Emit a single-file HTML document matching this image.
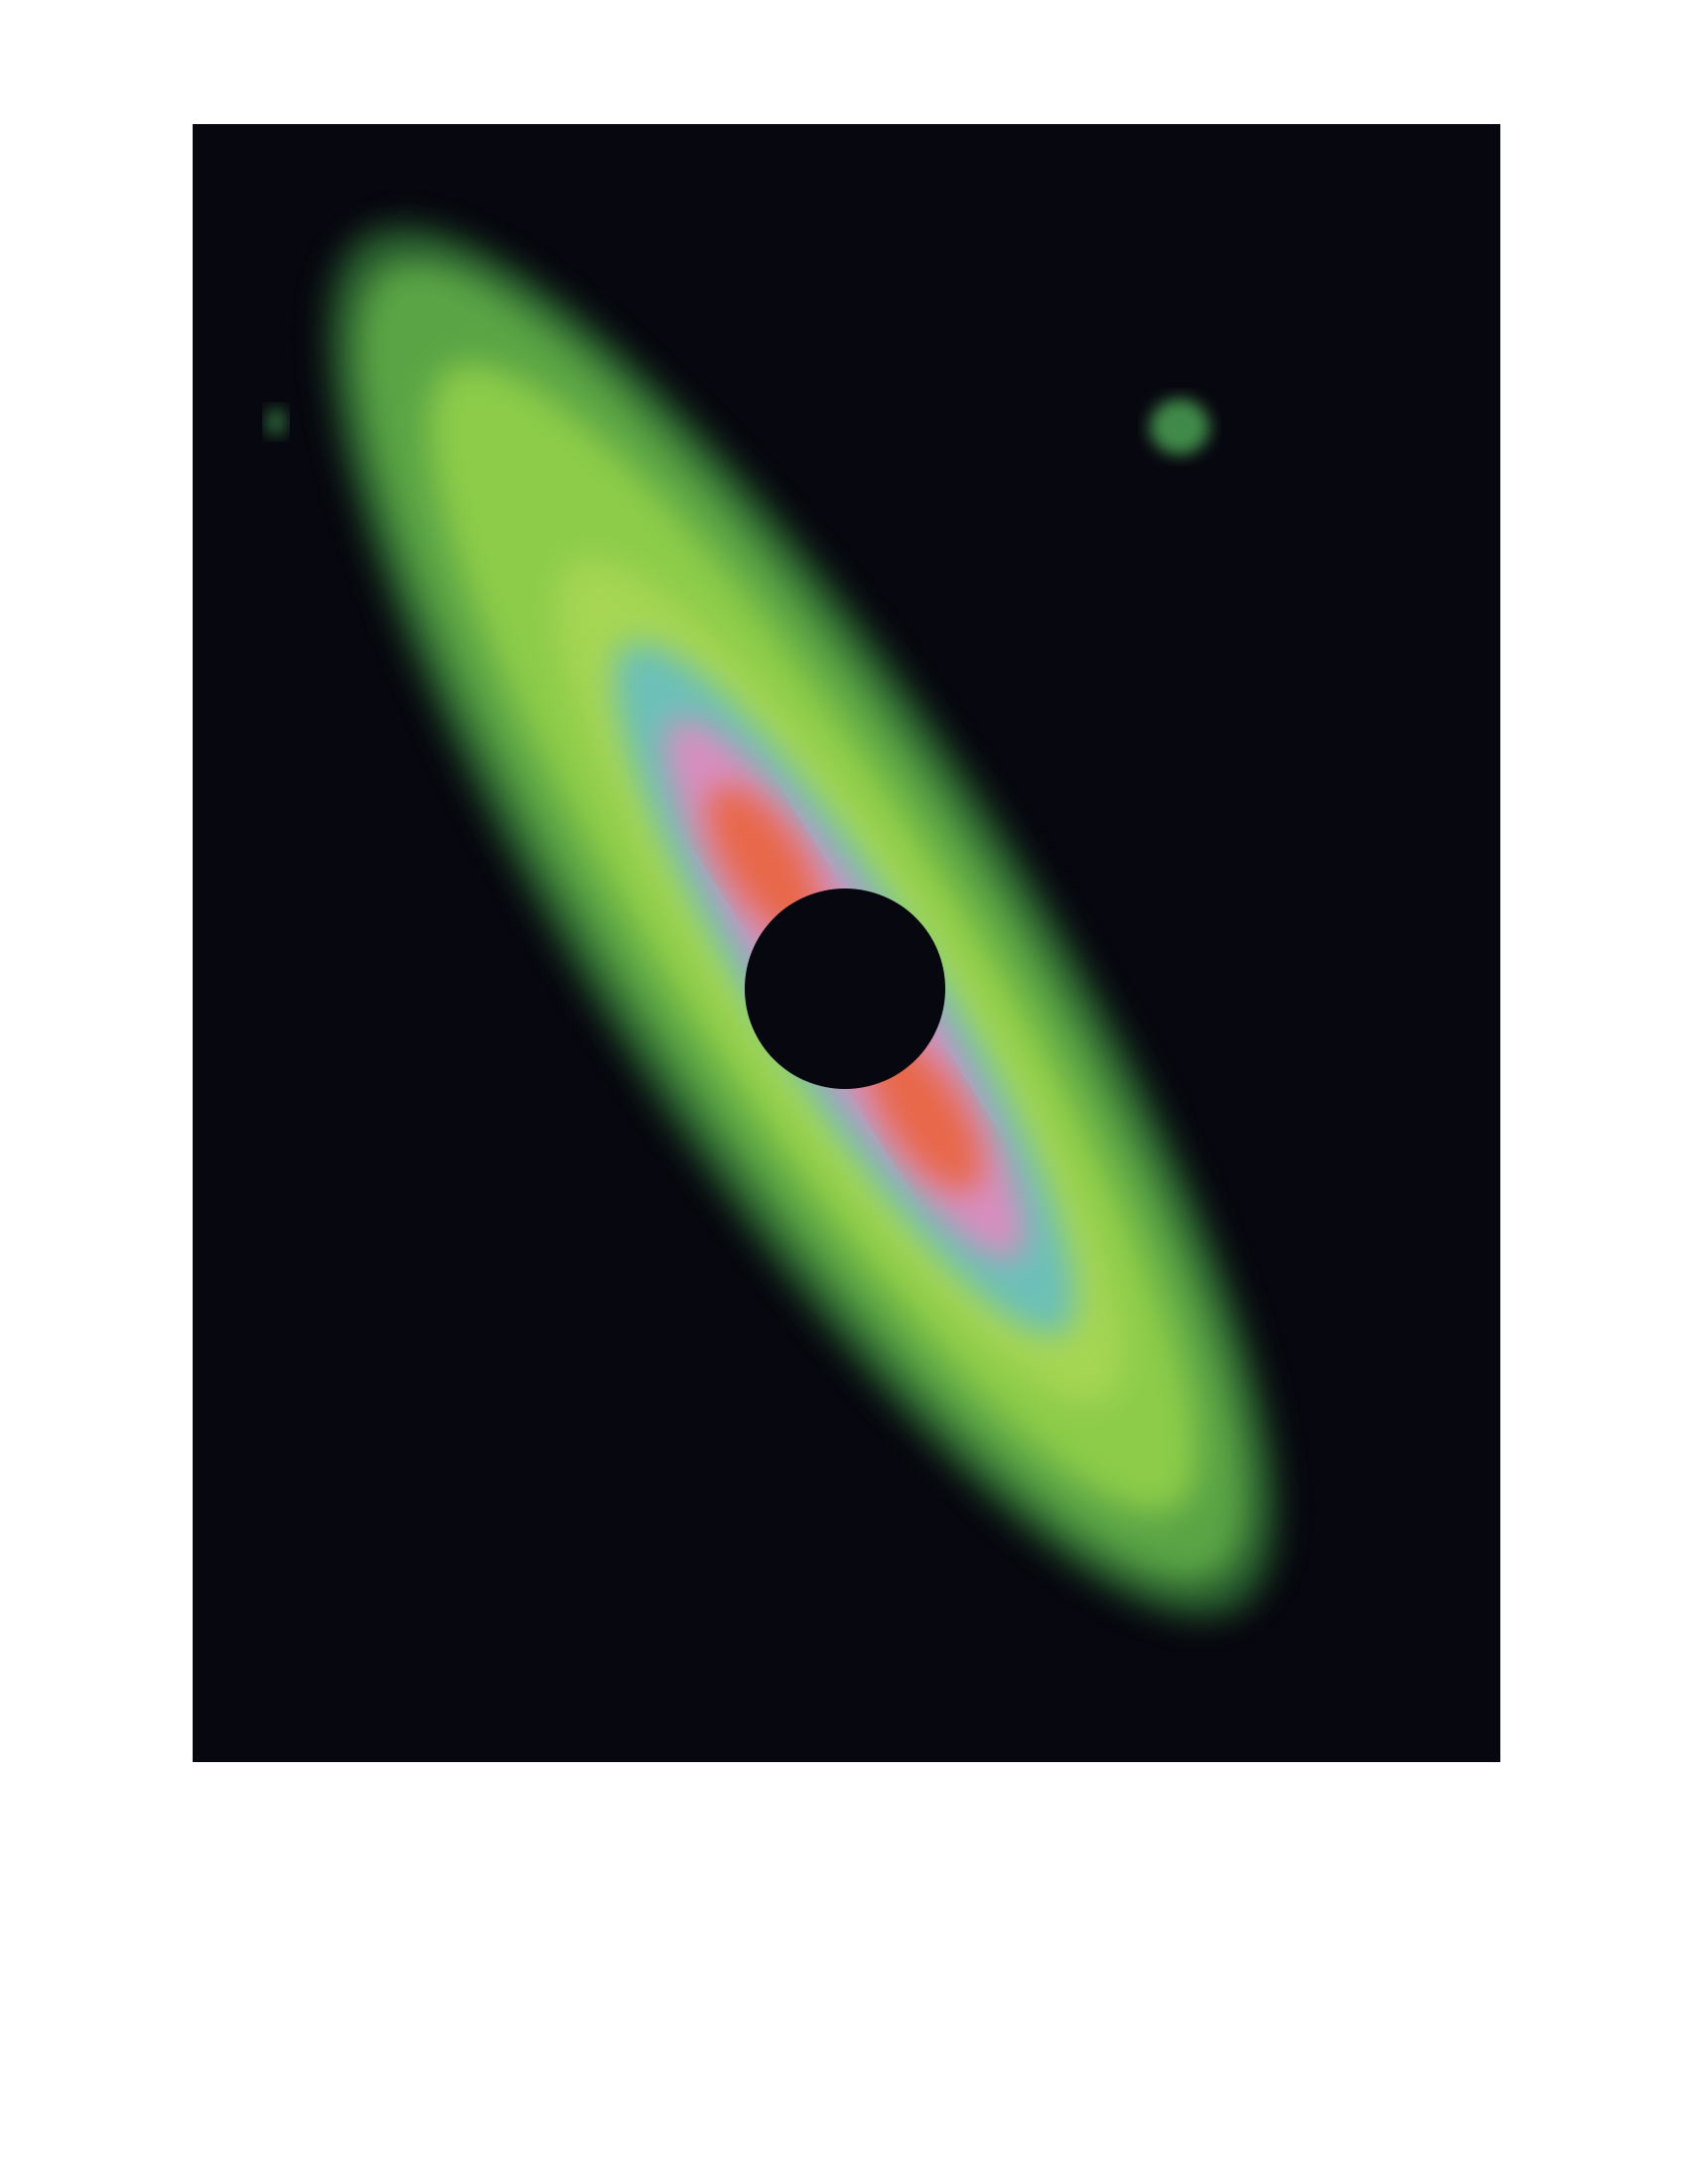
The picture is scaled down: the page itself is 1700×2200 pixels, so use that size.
<!DOCTYPE html>
<html>
<head>
<meta charset="utf-8">
<style>
html,body{margin:0;padding:0;background:#fff;}
body{width:1700px;height:2200px;position:relative;overflow:hidden;font-family:"Liberation Sans",sans-serif;}
svg{position:absolute;left:0;top:0;}
</style>
</head>
<body>
<svg width="1700" height="2200" viewBox="0 0 1700 2200">
  <defs>
    <filter id="blur" x="-20%" y="-20%" width="140%" height="140%">
      <feGaussianBlur stdDeviation="16"/>
    </filter>
    <filter id="blurS" x="-20%" y="-20%" width="140%" height="140%">
      <feGaussianBlur stdDeviation="8"/>
    </filter>
  </defs>
  <rect x="194" y="125" width="1317" height="1650" fill="#07070f"/>
  <g transform="translate(851,996) rotate(57.5)">
    <ellipse cx="-80" cy="0" rx="820" ry="220" fill="#2f6f36" opacity="0.8" filter="url(#blur)"/>
    <ellipse cx="-80" cy="0" rx="780" ry="190" fill="#5aa445" filter="url(#blur)"/>
    <ellipse cx="-60" cy="0" rx="680" ry="150" fill="#8ccc4a" filter="url(#blur)"/>
    <ellipse cx="-10" cy="0" rx="500" ry="115" fill="#a6d652" filter="url(#blur)"/>
    <ellipse cx="0" cy="0" rx="410" ry="88" fill="#6cc0b8" filter="url(#blur)"/>
    <ellipse cx="0" cy="0" rx="320" ry="66" fill="#d88ec0" filter="url(#blur)"/>
    <ellipse cx="-150" cy="0" rx="90" ry="38" fill="#e86848" filter="url(#blur)"/>
    <ellipse cx="150" cy="0" rx="90" ry="38" fill="#e86848" filter="url(#blur)"/>
  </g>
  <ellipse cx="1188" cy="430" rx="30" ry="28" fill="#3f8a4a" filter="url(#blurS)"/>
  <ellipse cx="278" cy="425" rx="10" ry="14" fill="#2f6a3a" filter="url(#blurS)"/>
  <circle cx="851" cy="996" r="101" fill="#07070f"/>
</svg>
</body>
</html>
